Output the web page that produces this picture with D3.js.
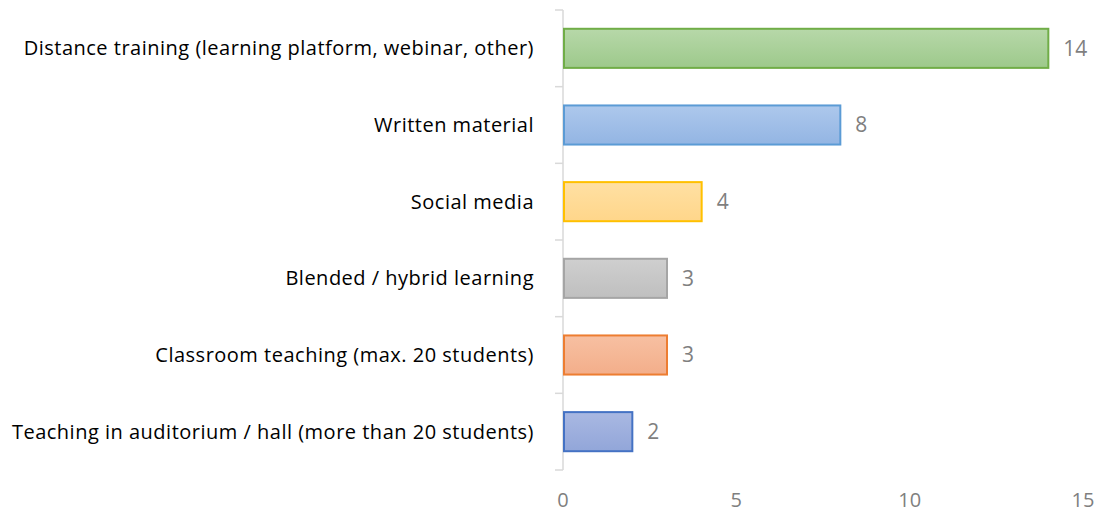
<!DOCTYPE html>
<html>
<head>
<meta charset="utf-8">
<script src="https://cdn.jsdelivr.net/npm/d3@7"></script>
<style>
  body { margin: 0; background: #fff; }
  text { font-family: "Open Sans", Lato, sans-serif; }
</style>
</head>
<body>
<div id="vis"></div>
<script>
// chart data, top to bottom
const categories = [
  "Distance training (learning platform, webinar, other)",
  "Written material",
  "Social media",
  "Blended / hybrid learning",
  "Classroom teaching (max. 20 students)",
  "Teaching in auditorium / hall (more than 20 students)"
]
const values = [14, 8, 4, 3, 3, 2]
const xTicks = [0, 5, 10, 15]

const strokes = ['#70ad47', '#5b9bd5', '#ffc000', '#a5a5a5', '#ed7d31', '#4472c4']
const fillsTop = ['#b7d8a9', '#adc8ec', '#ffe0a3', '#cfcfcf', '#f7c0a2', '#a9b8e2']
const fillsBottom = ['#9dc98b', '#93b5e3', '#ffd68a', '#bfbfbf', '#f3ae8a', '#92a6d9']

const width = 1101, height = 513
const margin = { left: 563, top: 10, right: 18, bottom: 43 }

let svg = d3.select('#vis').append('svg')
  .attr('width', width)
  .attr('height', height)

const x = d3.scaleLinear().domain([0, 15]).range([margin.left, 1083])
const y = d3.scaleBand().domain(categories).range([margin.top, height - margin.bottom]).paddingInner(0.49).paddingOuter(0.245)
const yOuter = d3.scaleBand().domain(categories).range([margin.top, height - margin.bottom])

let defs = svg.append('defs')
categories.forEach((c, i) => {
  let g = defs.append('linearGradient').attr('id', 'g' + i)
    .attr('x1', 0).attr('y1', 0).attr('x2', 0).attr('y2', 1)
  g.append('stop').attr('offset', '0%').attr('stop-color', fillsTop[i])
  g.append('stop').attr('offset', '100%').attr('stop-color', fillsBottom[i])
})

// category axis: line plus ticks at band boundaries
let yAxis = svg.append('g')
yAxis.append('line')
  .attr('x1', margin.left).attr('x2', margin.left)
  .attr('y1', margin.top).attr('y2', height - margin.bottom)
  .attr('stroke', '#d9d9d9').attr('stroke-width', 1.5)
let bounds = categories.map(c => yOuter(c)).concat([height - margin.bottom])
yAxis.selectAll('.tick')
  .data(bounds).enter().append('line')
  .attr('x1', margin.left - 8).attr('x2', margin.left)
  .attr('y1', d => d).attr('y2', d => d)
  .attr('stroke', '#d9d9d9').attr('stroke-width', 1.5)

yAxis.selectAll('.lab')
  .data(categories).enter().append('text')
  .attr('x', margin.left - 29)
  .attr('y', d => yOuter(d) + yOuter.bandwidth() / 2)
  .attr('dy', '0.35em')
  .attr('text-anchor', 'end')
  .attr('font-size', 20)
  .attr('letter-spacing', 0.5)
  .attr('fill', '#000')
  .text(d => d)

// bars
svg.selectAll('.bar')
  .data(values).enter().append('rect')
  .attr('x', x(0) + 1)
  .attr('y', (d, i) => y(categories[i]))
  .attr('width', d => x(d) - x(0) - 1)
  .attr('height', y.bandwidth())
  .attr('fill', (d, i) => 'url(#g' + i + ')')
  .attr('stroke', (d, i) => strokes[i])
  .attr('stroke-width', 2)

// value labels
svg.selectAll('.val')
  .data(values).enter().append('text')
  .attr('x', d => x(d) + 15)
  .attr('y', (d, i) => y(categories[i]) + y.bandwidth() / 2)
  .attr('dy', '0.35em')
  .attr('font-size', 21)
  .attr('fill', '#7f7f7f')
  .text(d => d)

// value axis labels (no line)
svg.selectAll('.xt')
  .data(xTicks).enter().append('text')
  .attr('x', d => x(d))
  .attr('y', 500)
  .attr('dy', '0.35em')
  .attr('text-anchor', 'middle')
  .attr('font-size', 20)
  .attr('fill', '#7f7f7f')
  .text(d => d)
</script>
</body>
</html>
